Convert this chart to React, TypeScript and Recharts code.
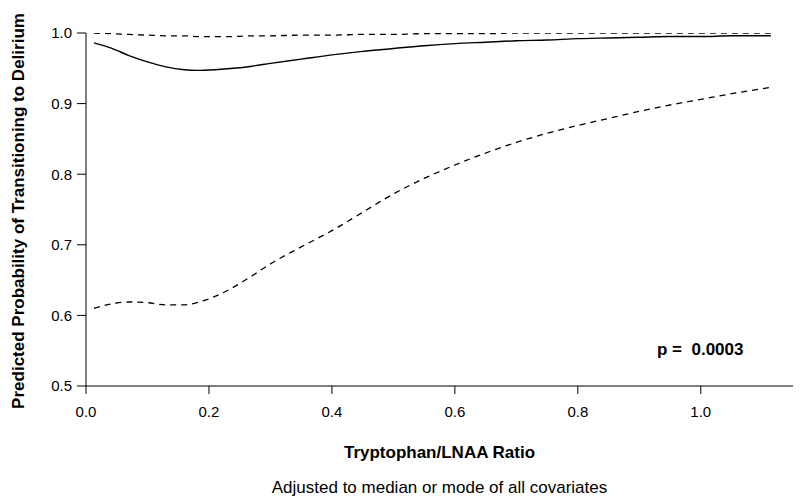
import { LineChart, Line, XAxis, YAxis, Customized } from "recharts";

// Tryptophan/LNAA ratio grid used for all three curves
const ratio = [0.013, 0.04, 0.07, 0.1, 0.13, 0.16, 0.18, 0.21, 0.24, 0.27, 0.3, 0.35, 0.4, 0.45, 0.5, 0.55, 0.6, 0.65, 0.7, 0.75, 0.8, 0.85, 0.9, 0.95, 1.0, 1.05, 1.114];

// predicted probability (solid) and 95% CI bounds (dashed)
const predicted = [0.986, 0.979, 0.968, 0.959, 0.952, 0.948, 0.947, 0.948, 0.95, 0.953, 0.957, 0.963, 0.969, 0.974, 0.978, 0.982, 0.985, 0.987, 0.989, 0.99, 0.992, 0.993, 0.994, 0.995, 0.995, 0.996, 0.996];
const upper = [1.0, 0.999, 0.998, 0.997, 0.996, 0.996, 0.995, 0.995, 0.995, 0.996, 0.996, 0.997, 0.997, 0.998, 0.998, 0.999, 0.999, 0.999, 1.0, 1.0, 1.0, 1.0, 1.0, 1.0, 1.0, 1.0, 1.0];
const lower = [0.61, 0.616, 0.619, 0.618, 0.615, 0.615, 0.618, 0.627, 0.64, 0.656, 0.673, 0.697, 0.72, 0.746, 0.772, 0.794, 0.813, 0.83, 0.845, 0.858, 0.869, 0.879, 0.889, 0.898, 0.906, 0.914, 0.923];

const xTicks = [0, 0.2, 0.4, 0.6, 0.8, 1.0];
const yTicks = [0.5, 0.6, 0.7, 0.8, 0.9, 1.0];

const chartData = ratio.map((r, i) => ({
  ratio: r,
  predicted: predicted[i],
  upper: upper[i],
  lower: lower[i],
}));

const FONT = "'Liberation Sans', Arial, sans-serif";

const Annotations = () => (
  <g fontFamily={FONT} fill="#000">
    <text x={24} y={211} transform="rotate(-90 24 211)" textAnchor="middle" fontSize={17} fontWeight="bold">
      Predicted Probability of Transitioning to Delirium
    </text>
    <text x={439.5} y={458} textAnchor="middle" fontSize={17} fontWeight="bold">
      Tryptophan/LNAA Ratio
    </text>
    <text x={439.5} y={493} textAnchor="middle" fontSize={17}>
      Adjusted to median or mode of all covariates
    </text>
    <text x={657} y={355} fontSize={17} fontWeight="bold" style={{ whiteSpace: "pre" }}>
      {"p =  0.0003"}
    </text>
  </g>
);

export default function App() {
  return (
    <div style={{ position: "absolute", left: 0, top: 0, background: "#fff" }}>
      <LineChart
        width={800}
        height={496}
        data={chartData}
        margin={{ top: 33, right: 7, bottom: 80, left: 26 }}
      >
        <XAxis
          dataKey="ratio"
          type="number"
          domain={[0, 1.15]}
          ticks={xTicks}
          tickFormatter={(v: number) => v.toFixed(1)}
          height={30}
          tickSize={8}
          tickMargin={12}
          stroke="#000"
          tick={{ fill: "#000", fontSize: 15, fontFamily: FONT }}
          allowDataOverflow
        />
        <YAxis
          type="number"
          domain={[0.5, 1.0]}
          ticks={yTicks}
          tickFormatter={(v: number) => v.toFixed(1)}
          width={60}
          tickSize={9}
          tickMargin={5}
          stroke="#000"
          tick={{ fill: "#000", fontSize: 15, fontFamily: FONT }}
          allowDataOverflow
        />
        <Line dataKey="upper" type="monotone" stroke="#000" strokeWidth={1.3} strokeDasharray="6 5" dot={false} isAnimationActive={false} />
        <Line dataKey="predicted" type="monotone" stroke="#000" strokeWidth={1.4} dot={false} isAnimationActive={false} />
        <Line dataKey="lower" type="monotone" stroke="#000" strokeWidth={1.3} strokeDasharray="6 5" dot={false} isAnimationActive={false} />
        <Customized component={Annotations} />
      </LineChart>
    </div>
  );
}
